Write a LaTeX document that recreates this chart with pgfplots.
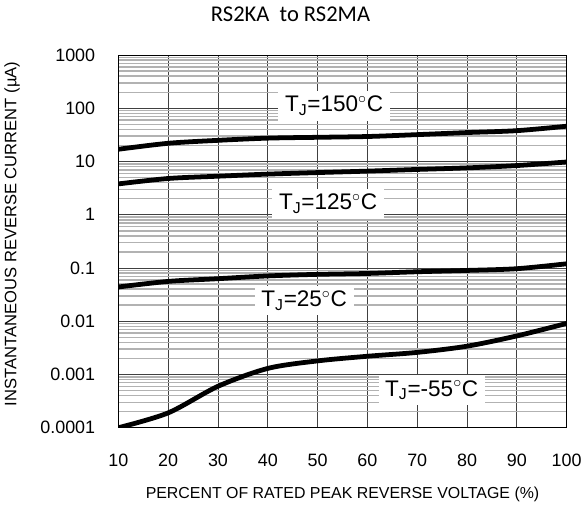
\documentclass[border=0pt]{standalone}
\usepackage{pgfplots}
\pgfplotsset{compat=1.18}
\usepackage{fontspec}
\setmainfont{Liberation Sans}
\newfontfamily\titlefont{Carlito}

\begin{document}
\begin{tikzpicture}
\begin{axis}[
  scale only axis, width=338pt, height=281pt,
  ymode=log, log basis y=10,
  xmin=10, xmax=100, ymin=0.0001, ymax=1000,
  xtick={10,20,...,100},
  ytick={0.0001,0.001,0.01,0.1,1,10,100,1000},
  yticklabels={0.0001,0.001,0.01,0.1,1,10,100,1000},
  /pgf/number format/assume math mode=true,
  tick label style={font=\fontsize{13.5}{16}\selectfont},
  xticklabel style={yshift=-16pt},
  yticklabel style={xshift=-14pt},
  tick align=inside,
  xtick style={draw=none}, ytick style={draw=none},
  minor ytick={0.0002,0.0003,0.0004,0.0005,0.0006,0.0007,0.0008,0.0009,
    0.002,0.003,0.004,0.005,0.006,0.007,0.008,0.009,
    0.02,0.03,0.04,0.05,0.06,0.07,0.08,0.09,
    0.2,0.3,0.4,0.5,0.6,0.7,0.8,0.9,
    2,3,4,5,6,7,8,9, 20,30,40,50,60,70,80,90, 200,300,400,500,600,700,800,900},
  xmajorgrids=true, ymajorgrids=true, yminorgrids=true,
  major grid style={black!75, line width=0.6pt},
  minor grid style={black!30, line width=1.1pt},
  axis line style={black, line width=0.8pt},
  title={\titlefont\fontsize{17}{20}\selectfont RS2KA\ \ to RS2MA},
  title style={at={(axis description cs:0.384,1)}, anchor=center, yshift=25pt},
  xlabel={PERCENT OF RATED PEAK REVERSE VOLTAGE (\%)},
  xlabel style={font=\fontsize{12}{14}\selectfont, at={(axis description cs:0.5,-0.179)}, anchor=center},
  ylabel={INSTANTANEOUS REVERSE CURRENT (µA)},
  ylabel style={font=\fontsize{12.5}{14}\selectfont, at={(axis description cs:-0.237,0.52)}, anchor=center, rotate=0},
]
% T_J = 150 C
\addplot[black, no marks, line width=3.6pt, smooth, tension=0.5] coordinates {(10,17) (20,22) (30,25) (40,27.5) (50,28.5) (60,29.5) (70,32) (80,35) (90,38) (100,46)};
% T_J = 125 C
\addplot[black, no marks, line width=3.6pt, smooth, tension=0.5] coordinates {(10,3.8) (20,4.8) (30,5.3) (40,5.8) (50,6.2) (60,6.6) (70,7.1) (80,7.6) (90,8.4) (100,9.8)};
% T_J = 25 C
\addplot[black, no marks, line width=3.6pt, smooth, tension=0.5] coordinates {(10,0.044) (20,0.056) (30,0.063) (40,0.071) (50,0.076) (60,0.079) (70,0.085) (80,0.09) (90,0.097) (100,0.12)};
% T_J = -55 C
\addplot[black, no marks, line width=3.6pt, smooth, tension=0.5] coordinates {(10,0.0001) (20,0.00019) (30,0.0006) (40,0.0013) (50,0.0018) (60,0.0022) (70,0.0026) (80,0.0034) (90,0.0053) (100,0.0091)};

\begin{scope}[every node/.style={fill=white, inner xsep=5pt, inner ysep=4pt, font=\fontsize{17}{20}\selectfont}]
\node at (axis cs:53.3,112) {T\textsubscript{J}=150$^{\circ}$C};
\node at (axis cs:52.1,1.6) {T\textsubscript{J}=125$^{\circ}$C};
\node at (axis cs:47.3,0.0245) {T\textsubscript{J}=25$^{\circ}$C};
\node at (axis cs:72.9,0.00051) {T\textsubscript{J}=-55$^{\circ}$C};
\end{scope}
\end{axis}
\path[use as bounding box] (-89pt,-58.5pt) rectangle (350.5pt,322.5pt);
\end{tikzpicture}
\end{document}
